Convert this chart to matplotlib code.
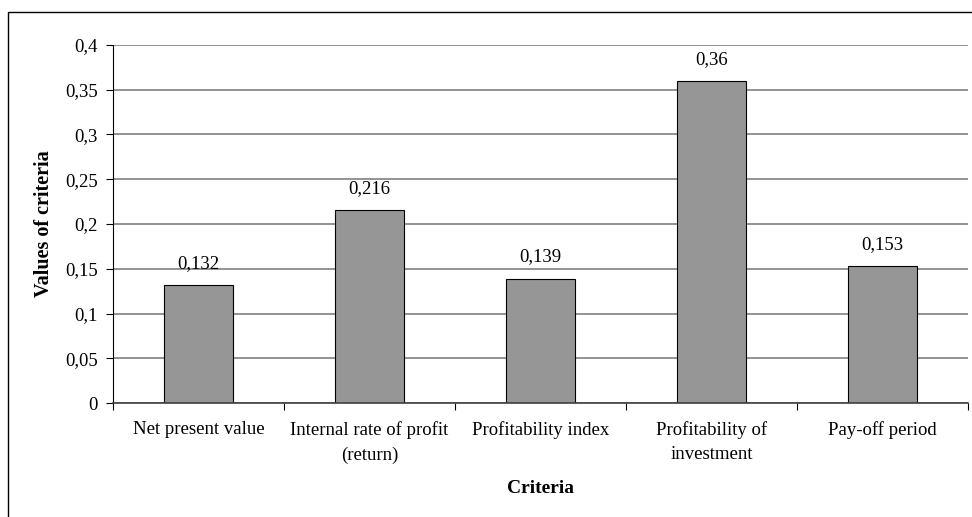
import numpy as np
import matplotlib.pyplot as plt
import matplotlib as mpl
from matplotlib.patches import Rectangle
from matplotlib.ticker import FuncFormatter, FixedLocator, MultipleLocator

mpl.rcParams['font.family'] = 'Liberation Serif'
mpl.rcParams['font.size'] = 12

categories = ["Net present value", "Internal rate of profit\n(return)", "Profitability index",
              "Profitability of\ninvestment", "Pay-off period"]
values = [0.132, 0.216, 0.139, 0.36, 0.153]
value_labels = ["0,132", "0,216", "0,139", "0,36", "0,153"]

W, H = 972, 517
fig = plt.figure(figsize=(W / 100, H / 100), dpi=100)

# chart frame (runs off the right and bottom edges)
fig.patches.append(Rectangle((8 / W, -0.1), 1.2, 1 - 12 / H + 0.1, transform=fig.transFigure,
                             fill=False, edgecolor="black", linewidth=1.0))

ax = fig.add_axes([113 / W, 1 - 403 / H, (968 - 113) / W, (403 - 45) / H])

x = np.arange(len(categories))
ax.bar(x, values, width=0.4, color="#969696", edgecolor="black", linewidth=0.8, zorder=3)

for xi, v, lab in zip(x, values, value_labels):
    ax.annotate(lab, (xi, v), xytext=(0, 15.5), textcoords="offset points",
                ha="center", va="center", fontsize=13.5)

ax.set_xlim(-0.5, len(categories) - 0.5)
ax.set_ylim(0, 0.4)
ax.yaxis.set_major_locator(MultipleLocator(0.05))
ax.yaxis.set_major_formatter(FuncFormatter(
    lambda v, pos: "0" if abs(v) < 1e-9 else f"{v:.2f}".rstrip("0").replace(".", ",")))
ax.grid(axis="y", color="#808080", linewidth=1.2, zorder=0)

ax.set_xticks(x)
ax.set_xticklabels(categories, fontsize=13.5, linespacing=1.55)
ax.tick_params(axis="x", length=0, pad=13)
ax.xaxis.set_minor_locator(FixedLocator(np.arange(-0.5, len(categories), 1.0)))
ax.tick_params(axis="x", which="minor", length=5, direction="out", width=0.8)
ax.tick_params(axis="y", length=5, direction="out", width=0.8, labelsize=13.5, pad=6)

for side in ["top", "right"]:
    ax.spines[side].set_visible(False)
ax.spines["left"].set_linewidth(0.8)
ax.spines["bottom"].set_linewidth(1.2)
ax.spines["bottom"].set_color("#404040")
ax.spines["bottom"].set_zorder(4)

ax.set_ylabel("Values of criteria", fontweight="bold", fontsize=14.5, labelpad=8)
ax.set_xlabel("Criteria", fontweight="bold", fontsize=14, labelpad=12)

fig.savefig("out.png", dpi=100)
